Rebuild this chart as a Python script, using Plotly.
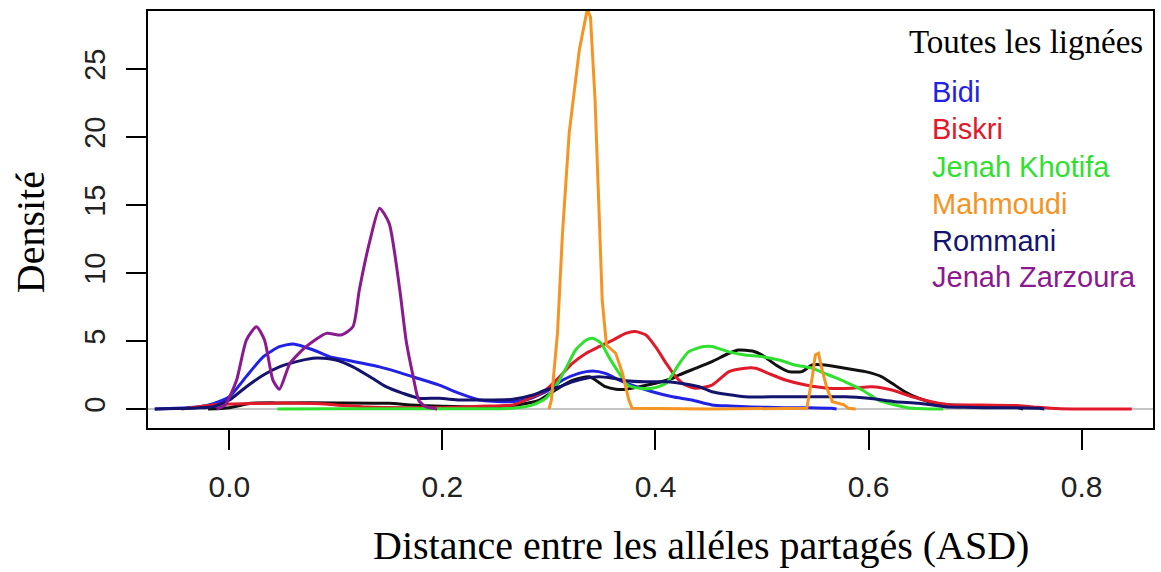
import plotly.graph_objects as go

# ---- data ----
bidi_x = [-0.07, -0.05, -0.03, -0.015, 0.0, 0.016, 0.032, 0.047, 0.06, 0.079, 0.094, 0.11, 0.125, 0.141, 0.157,
          0.172, 0.197, 0.216, 0.235, 0.26, 0.278, 0.297, 0.313, 0.328, 0.341, 0.353, 0.366, 0.378, 0.397, 0.416,
          0.434, 0.453, 0.47, 0.49, 0.52, 0.545, 0.565, 0.57]
bidi_y = [0.0, 0.05, 0.15, 0.4, 0.9, 2.4, 3.85, 4.58, 4.78, 4.34, 3.85, 3.6, 3.36, 3.1, 2.75,
          2.37, 1.76, 1.15, 0.66, 0.54, 0.66, 1.27, 2.13, 2.62, 2.8, 2.62, 2.13, 1.76, 1.27, 0.9,
          0.66, 0.3, 0.22, 0.15, 0.1, 0.1, 0.05, 0.0]

biskri_x = [-0.045, -0.03, -0.01, 0.02, 0.05, 0.08, 0.1, 0.13, 0.17, 0.2, 0.235, 0.266, 0.285, 0.297, 0.31,
            0.322, 0.335, 0.347, 0.36, 0.372, 0.381, 0.391, 0.40, 0.41, 0.419, 0.428, 0.438, 0.453, 0.469,
            0.484, 0.494, 0.506, 0.522, 0.541, 0.5625, 0.584, 0.603, 0.622, 0.641, 0.659, 0.678, 0.706,
            0.74, 0.759, 0.78, 0.847]
biskri_y = [0.0, 0.15, 0.35, 0.4, 0.45, 0.4, 0.3, 0.15, 0.1, 0.1, 0.2, 0.3, 0.9, 1.4, 2.37,
            3.36, 4.1, 4.58, 5.07, 5.56, 5.69, 5.44, 4.58, 3.36, 2.37, 1.76, 1.52, 1.76, 2.75,
            3.0, 3.0, 2.62, 2.13, 1.76, 1.52, 1.52, 1.64, 1.4, 0.9, 0.54, 0.3, 0.3,
            0.25, 0.12, 0.02, 0.0]

khotifa_x = [0.045, 0.1, 0.15, 0.2, 0.235, 0.266, 0.285, 0.297, 0.306, 0.316, 0.325, 0.335, 0.341, 0.349,
             0.356, 0.366, 0.374, 0.385, 0.397, 0.41, 0.422, 0.431, 0.444, 0.453, 0.469, 0.484, 0.50, 0.516,
             0.531, 0.547, 0.5625, 0.578, 0.594, 0.609, 0.625, 0.641, 0.66, 0.67]
khotifa_y = [0.0, 0.02, 0.02, 0.02, 0.02, 0.05, 0.3, 0.79, 1.64, 3.0, 4.34, 5.07, 5.2, 4.83,
             3.85, 2.62, 1.76, 1.52, 1.52, 1.89, 3.3, 4.2, 4.58, 4.6, 4.2, 3.97, 3.85, 3.6,
             3.24, 3.0, 2.5, 2.0, 1.4, 0.66, 0.3, 0.05, 0.0, 0.0]

mahmoudi_x = [0.30, 0.3023, 0.308, 0.3127, 0.319, 0.3285, 0.336, 0.339, 0.3433, 0.3465, 0.350, 0.354,
              0.3627, 0.369, 0.375, 0.378, 0.45, 0.542, 0.547, 0.550, 0.553, 0.556, 0.561, 0.566, 0.572,
              0.577, 0.581, 0.588]
mahmoudi_y = [0.0, 0.66, 5.56, 12.9, 20.3, 26.4, 29.4, 28.8, 22.7, 15.4, 8.0, 4.7,
              4.1, 2.62, 0.66, 0.05, 0.0, 0.05, 2.26, 3.97, 4.1, 3.0, 1.5, 0.54, 0.42,
              0.3, 0.05, 0.0]

rommani_x = [-0.07, -0.05, -0.03, -0.015, 0.0, 0.016, 0.032, 0.047, 0.063, 0.0785, 0.088, 0.10, 0.116,
             0.132, 0.147, 0.163, 0.178, 0.197, 0.216, 0.235, 0.266, 0.285, 0.297, 0.31, 0.322, 0.335,
             0.347, 0.36, 0.372, 0.391, 0.41, 0.428, 0.441, 0.453, 0.484, 0.516, 0.547, 0.578, 0.6,
             0.625, 0.647, 0.672, 0.69, 0.709, 0.73, 0.76, 0.765]
rommani_y = [0.0, 0.03, 0.08, 0.17, 0.66, 1.64, 2.5, 3.1, 3.48, 3.73, 3.73, 3.6, 3.1,
             2.37, 1.64, 1.15, 0.79, 0.79, 0.66, 0.66, 0.71, 1.03, 1.4, 1.64, 2.0, 2.26,
             2.37, 2.26, 2.08, 2.0, 2.0, 1.84, 1.64, 1.27, 0.9, 0.9, 0.9, 0.9, 0.79,
             0.54, 0.42, 0.17, 0.12, 0.1, 0.1, 0.05, 0.0]

zarzoura_x = [-0.012, -0.004, 0.0067, 0.016, 0.0255, 0.033, 0.041, 0.047, 0.057, 0.072, 0.091, 0.105,
              0.116, 0.122, 0.132, 0.141, 0.150, 0.160, 0.166, 0.172, 0.178, 0.185, 0.195]
zarzoura_y = [0.0, 0.3, 2.1, 5.07, 6.05, 5.07, 2.1, 1.45, 3.36, 4.58, 5.56, 5.44,
              6.05, 8.75, 12.4, 14.76, 13.65, 8.75, 5.0, 2.6, 0.6, 0.15, 0.0]

toutes_x = [-0.02, 0.0, 0.02, 0.05, 0.1, 0.15, 0.17, 0.2, 0.25, 0.27, 0.291, 0.306, 0.322, 0.338, 0.353,
            0.363, 0.372, 0.385, 0.40, 0.416, 0.422, 0.438, 0.453, 0.469, 0.478, 0.491, 0.50, 0.513, 0.525,
            0.5375, 0.547, 0.559, 0.578, 0.597, 0.6125, 0.622, 0.634, 0.647, 0.6625, 0.678, 0.70, 0.72,
            0.74, 0.745]
toutes_y = [0.0, 0.1, 0.42, 0.45, 0.45, 0.42, 0.3, 0.2, 0.17, 0.3, 0.66, 1.4, 2.1, 2.37, 1.64,
            1.45, 1.45, 1.64, 1.89, 2.26, 2.5, 3.0, 3.48, 4.1, 4.34, 4.26, 3.97, 3.24, 2.75,
            2.75, 3.24, 3.24, 3.0, 2.75, 2.37, 1.89, 1.27, 0.79, 0.42, 0.3, 0.25, 0.2,
            0.1, 0.0]

legend_names = ["Bidi", "Biskri", "Jenah Khotifa", "Mahmoudi", "Rommani", "Jenah Zarzoura"]
legend_colors = ["#2222e6", "#e01a2a", "#2fe02f", "#f59422", "#14146e", "#8a1a8e"]
x_tickvals = [0.0, 0.2, 0.4, 0.6, 0.8]
x_ticktext = ["0.0", "0.2", "0.4", "0.6", "0.8"]
y_tickvals = [0, 5, 10, 15, 20, 25]

series = [
    ("Toutes les lignées", toutes_x, toutes_y, "#111111", "spline"),
    ("Bidi", bidi_x, bidi_y, legend_colors[0], "spline"),
    ("Biskri", biskri_x, biskri_y, legend_colors[1], "spline"),
    ("Jenah Khotifa", khotifa_x, khotifa_y, legend_colors[2], "spline"),
    ("Rommani", rommani_x, rommani_y, legend_colors[4], "spline"),
    ("Jenah Zarzoura", zarzoura_x, zarzoura_y, legend_colors[5], "spline"),
    ("Mahmoudi", mahmoudi_x, mahmoudi_y, legend_colors[3], "linear"),
]

fig = go.Figure()
for name, xs, ys, col, shape in series:
    line = dict(color=col, width=3, shape=shape)
    if shape == "spline":
        line["smoothing"] = 0.6
    fig.add_trace(go.Scatter(x=xs, y=ys, mode="lines", name=name, line=line, showlegend=False))

# plot area in pixels: x 148..1155, y 11..428
L, R, T, B = 148, 1155, 11, 428
W, H = R - L, B - T

def px(xp):
    return (xp - L) / W

def py(yp):
    return (B - yp) / H

annotations = [
    dict(text="Densité", x=px(30), y=py(232), textangle=-90,
         font=dict(family="Liberation Serif", size=40, color="black")),
    dict(text="Distance entre les alléles partagés (ASD)", x=px(702), y=py(545),
         font=dict(family="Liberation Serif", size=40, color="black")),
    dict(text="Toutes les lignées", x=px(1027.5), y=py(42),
         font=dict(family="Liberation Serif", size=33, color="black")),
]
legend_y = [91.7, 129, 166.7, 204, 241, 277]
for name, col, ly in zip(legend_names, legend_colors, legend_y):
    annotations.append(dict(text=name, x=px(932), y=py(ly), xanchor="left",
                            font=dict(family="Liberation Sans", size=29, color=col)))
for a in annotations:
    a.setdefault("xanchor", "center")
    a["yanchor"] = "middle"
    a["xref"] = "paper"
    a["yref"] = "paper"
    a["showarrow"] = False

fig.update_layout(
    width=1161, height=572, autosize=False,
    margin=dict(l=L, r=1161 - R, t=T, b=572 - B),
    paper_bgcolor="white", plot_bgcolor="white",
    annotations=annotations,
    xaxis=dict(range=[(L - 229.5) / 1067.5, (R - 229.5) / 1067.5],
               tickvals=x_tickvals, ticktext=x_ticktext,
               ticks="outside", ticklen=20, tickwidth=1.5, tickcolor="black",
               showline=True, linecolor="black", linewidth=2, mirror=True,
               showgrid=False, zeroline=False,
               tickfont=dict(family="Liberation Sans", size=30, color="#222"),
               ticklabelstandoff=11),
    yaxis=dict(range=[(409 - B) / 13.6, (409 - T) / 13.6],
               tickvals=y_tickvals, tickangle=-90,
               ticks="outside", ticklen=20, tickwidth=1.5, tickcolor="black",
               showline=True, linecolor="black", linewidth=2, mirror=True,
               showgrid=False, zeroline=True, zerolinecolor="#c4c4c4", zerolinewidth=1.5,
               tickfont=dict(family="Liberation Sans", size=29, color="#222"),
               ticklabelstandoff=9),
)

fig.write_html("out.html")
